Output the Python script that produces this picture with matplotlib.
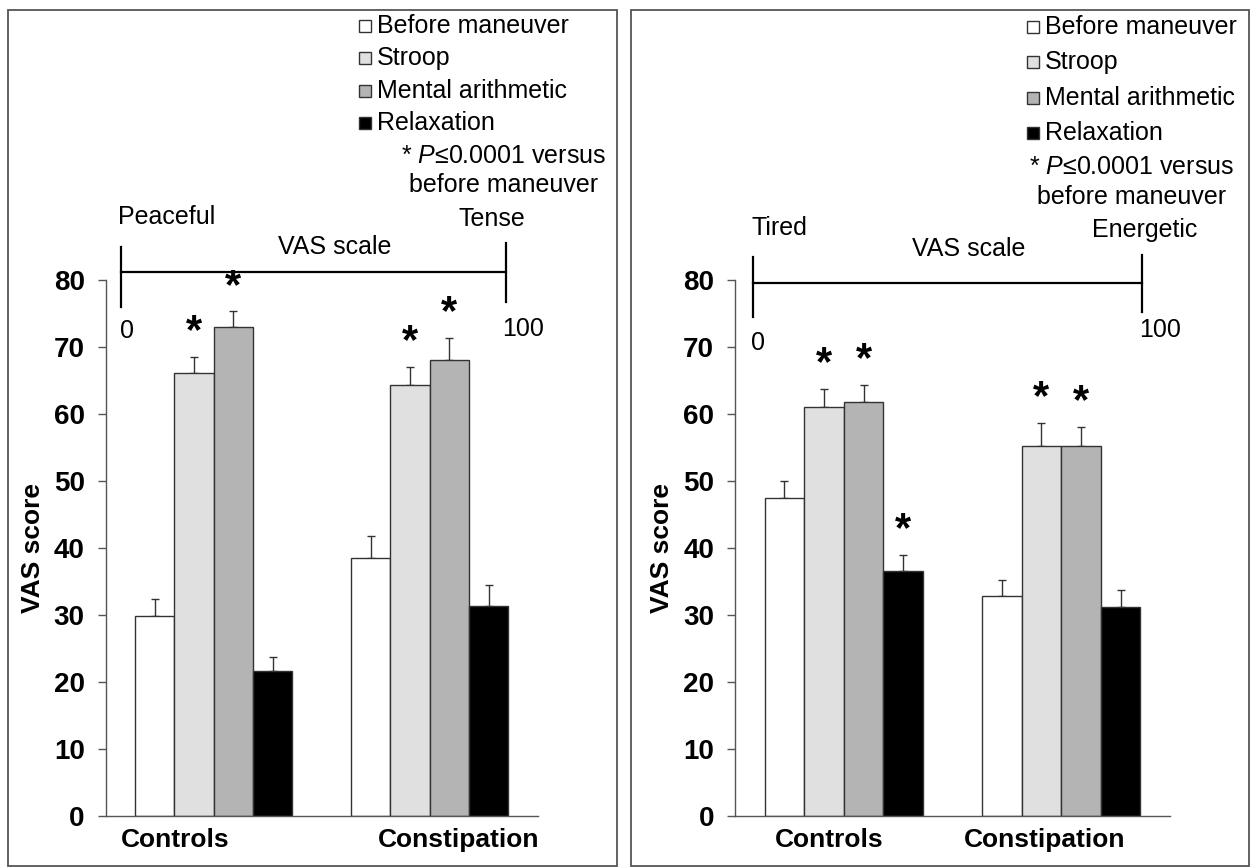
import matplotlib
matplotlib.use('Agg')
import matplotlib.pyplot as plt
from matplotlib.patches import Rectangle

plt.rcParams['font.family'] = ['Liberation Sans', 'DejaVu Sans']
plt.rcParams['mathtext.fontset'] = 'custom'
plt.rcParams['mathtext.rm'] = 'Liberation Sans'
plt.rcParams['mathtext.it'] = 'Liberation Sans:italic'

# ---- data ----
groups = ['Controls', 'Constipation']
conditions = ['Before maneuver', 'Stroop', 'Mental arithmetic', 'Relaxation']
bar_colors = ['#ffffff', '#e0e0e0', '#b4b4b4', '#000000']

# left panel: peaceful (0) .. tense (100)
tense_controls = [29.8, 66.1, 73.0, 21.6]
tense_controls_sem = [2.6, 2.4, 2.3, 2.1]
tense_constipation = [38.5, 64.3, 68.0, 31.4]
tense_constipation_sem = [3.3, 2.7, 3.4, 3.1]
tense_sig_controls = [False, True, True, False]
tense_sig_constipation = [False, True, True, False]

# right panel: tired (0) .. energetic (100)
energy_controls = [47.4, 61.0, 61.8, 36.6]
energy_controls_sem = [2.6, 2.8, 2.5, 2.4]
energy_constipation = [32.9, 55.2, 55.2, 31.2]
energy_constipation_sem = [2.3, 3.4, 2.9, 2.6]
energy_sig_controls = [False, True, True, True]
energy_sig_constipation = [False, True, True, False]

yticks = [0, 10, 20, 30, 40, 50, 60, 70, 80]
note_lines = ['* $\\it{P}$\u22640.0001 versus', 'before maneuver']

W, H = 1254, 867
FS = 18        # plain text
FS_BOLD = 19   # axis / group labels
FS_TICK = 20
EDGE = '#333333'


def fx(px):
    return px / W


def fy(py):
    return 1 - py / H


def draw_panel(ax, means, sems, sigs, low, high, lay):
    """Grouped bars with upper SEM whiskers, stars and the VAS scale sketch."""
    width = 0.182
    for g in range(len(groups)):
        for i, color in enumerate(bar_colors):
            x = g + (i - 1.5) * width
            ax.bar(x, means[g][i], width=width, color=color, edgecolor=EDGE,
                   linewidth=1.0, zorder=2)
            ax.errorbar(x, means[g][i], yerr=[[0], [sems[g][i]]], fmt='none',
                        ecolor=EDGE, elinewidth=1.0, capsize=3, capthick=1.0,
                        zorder=1)
            if sigs[g][i]:
                ax.annotate('*', xy=(x, means[g][i] + sems[g][i]),
                            xytext=(0, 10), textcoords='offset points',
                            ha='center', va='baseline', fontsize=30,
                            fontweight='bold', annotation_clip=False)

    ax.set_xlim(-0.5, 1.5)
    ax.set_ylim(0, 80)
    ax.set_yticks(yticks)
    ax.set_xticks([])
    for lbl in ax.get_yticklabels():
        lbl.set_fontweight('bold')
    ax.tick_params(axis='y', direction='out', length=6, width=1.0,
                   colors='#555555', labelcolor='black', labelsize=FS_TICK,
                   pad=9)
    for side in ['top', 'right']:
        ax.spines[side].set_visible(False)
    for side in ['left', 'bottom']:
        ax.spines[side].set_color('#555555')
        ax.spines[side].set_linewidth(1.0)

    ax.set_ylabel('VAS score', fontsize=FS_BOLD, fontweight='bold', va='center')
    ax.yaxis.set_label_coords(-0.167, 0.5)

    for name, xf in zip(groups, lay['group_x']):
        ax.text(xf, -0.044, name, transform=ax.transAxes, ha='center',
                va='center', fontsize=FS_BOLD, fontweight='bold')

    # VAS scale drawing above the axes (x in axes fraction, y in data units)
    tr = ax.get_yaxis_transform()
    x0, x1 = lay['line_x']
    ax.plot([x0, x1], [lay['line_y']] * 2, color='black', lw=1.6,
            transform=tr, clip_on=False)
    ax.plot([x0, x0], lay['tick_left'], color='black', lw=1.6,
            transform=tr, clip_on=False)
    ax.plot([x1, x1], lay['tick_right'], color='black', lw=1.6,
            transform=tr, clip_on=False)
    ax.text(lay['low_xy'][0], lay['low_xy'][1], low, transform=tr,
            ha='left', va='center', fontsize=FS)
    ax.text(lay['high_xy'][0], lay['high_xy'][1], high, transform=tr,
            ha='right', va='center', fontsize=FS)
    ax.text(lay['scale_xy'][0], lay['scale_xy'][1], 'VAS scale', transform=tr,
            ha='center', va='center', fontsize=FS)
    ax.text(lay['zero_xy'][0], lay['zero_xy'][1], '0', transform=tr,
            ha='left', va='center', fontsize=FS)
    ax.text(lay['hundred_xy'][0], lay['hundred_xy'][1], '100', transform=tr,
            ha='left', va='center', fontsize=FS)


def draw_legend(fig, lay):
    sq = 12
    for i, (name, color) in enumerate(zip(conditions, bar_colors)):
        yc = lay['leg_top'] + i * lay['leg_pitch']
        fig.add_artist(Rectangle((fx(lay['sq_x']), fy(yc + sq / 2)), sq / W, sq / H,
                                 facecolor=color, edgecolor=EDGE, linewidth=1.0,
                                 transform=fig.transFigure))
        fig.text(fx(lay['sq_x'] + sq + 6), fy(yc), name, ha='left',
                 va='center', fontsize=FS)
    for line, yc in zip(note_lines, lay['note_y']):
        fig.text(fx(lay['note_x']), fy(yc), line, ha='center', va='center',
                 fontsize=FS)


def draw_frame(fig, x0, x1):
    fig.add_artist(Rectangle((fx(x0), fy(866)), (x1 - x0) / W, (866 - 10) / H,
                             facecolor='none', edgecolor='#555555',
                             linewidth=1.3, transform=fig.transFigure))


left_layout = {
    'group_x': [0.162, 0.817],
    'line_x': (0.036, 0.927), 'line_y': 81.2,
    'tick_left': (76.0, 84.9), 'tick_right': (76.7, 85.5),
    'low_xy': (0.029, 89.4), 'high_xy': (0.971, 89.1),
    'scale_xy': (0.531, 84.9), 'zero_xy': (0.033, 72.4),
    'hundred_xy': (0.918, 72.7),
    'sq_x': 359, 'leg_top': 26, 'leg_pitch': 32.3,
    'note_x': 504, 'note_y': [156, 185],
}
right_layout = {
    'group_x': [0.216, 0.712],
    'line_x': (0.041, 0.936), 'line_y': 79.55,
    'tick_left': (74.5, 83.4), 'tick_right': (75.2, 83.7),
    'low_xy': (0.037, 87.8), 'high_xy': (1.064, 87.5),
    'scale_xy': (0.537, 84.6), 'zero_xy': (0.037, 70.6),
    'hundred_xy': (0.929, 72.5),
    'sq_x': 1027, 'leg_top': 27, 'leg_pitch': 35.3,
    'note_x': 1132, 'note_y': [167, 197],
}


def main():
    fig = plt.figure(figsize=(W / 100, H / 100), dpi=100)
    ax_l = fig.add_axes([fx(105.6), fy(816), 432 / W, 536 / H])
    ax_r = fig.add_axes([fx(735), fy(816), 435 / W, 536 / H])

    draw_panel(ax_l,
               [tense_controls, tense_constipation],
               [tense_controls_sem, tense_constipation_sem],
               [tense_sig_controls, tense_sig_constipation],
               'Peaceful', 'Tense', left_layout)
    draw_panel(ax_r,
               [energy_controls, energy_constipation],
               [energy_controls_sem, energy_constipation_sem],
               [energy_sig_controls, energy_sig_constipation],
               'Tired', 'Energetic', right_layout)

    draw_legend(fig, left_layout)
    draw_legend(fig, right_layout)
    draw_frame(fig, 8, 617)
    draw_frame(fig, 631, 1249)

    fig.savefig('out.png', dpi=100)
    plt.close(fig)


if __name__ == '__main__':
    main()
